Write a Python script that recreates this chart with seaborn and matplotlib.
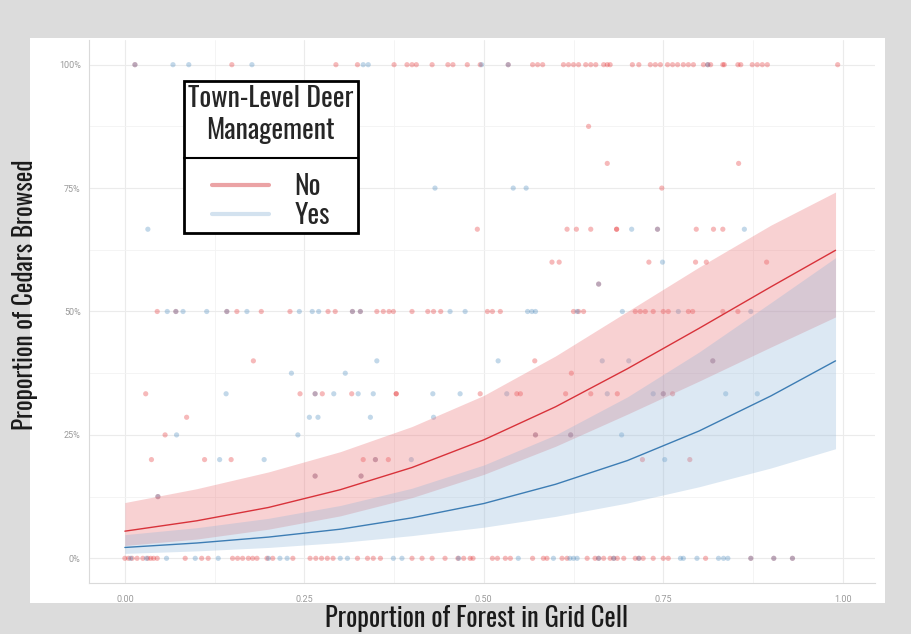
"""Cedar browsing vs. forest cover, by town-level deer management."""

import matplotlib

matplotlib.use("Agg")

import matplotlib.pyplot as plt
import pandas as pd
import seaborn as sns
from matplotlib.lines import Line2D
from matplotlib.patches import Rectangle

# observed cells: proportion of forest, one list per browsing level
NO_0 = [0.0, 0.005, 0.01, 0.017, 0.025, 0.032, 0.036, 0.04, 0.045, 0.084, 0.107, 0.116,
        0.15, 0.157, 0.164, 0.172, 0.178, 0.184, 0.198, 0.206, 0.234, 0.258, 0.266, 0.274,
        0.282, 0.29, 0.324, 0.338, 0.346, 0.356, 0.40, 0.414, 0.428, 0.446, 0.464, 0.472,
        0.481, 0.485, 0.512, 0.519, 0.53, 0.537, 0.568, 0.583, 0.588, 0.609, 0.616, 0.644,
        0.655, 0.66, 0.667, 0.676, 0.681, 0.686, 0.695, 0.711, 0.716, 0.722, 0.736, 0.75,
        0.757, 0.809, 0.872, 0.904, 0.93]
YES_0 = [0.008, 0.03, 0.058, 0.098, 0.13, 0.2, 0.216, 0.226, 0.30, 0.31, 0.374, 0.386,
         0.465, 0.548, 0.597, 0.62, 0.625, 0.63, 0.66, 0.681, 0.716, 0.774, 0.778, 0.797,
         0.827, 0.834, 0.84, 0.872, 0.904, 0.93]
NO_12 = [0.046]
YES_12 = [0.046]
NO_17 = [0.265, 0.329]
YES_17 = [0.265, 0.329]
NO_20 = [0.037, 0.111, 0.148, 0.332, 0.349, 0.367, 0.721, 0.787]
YES_20 = [0.132, 0.194, 0.349, 0.399, 0.752]
NO_25 = [0.056, 0.572, 0.621]
YES_25 = [0.072, 0.241, 0.572, 0.621, 0.692]
NO_29 = [0.086]
YES_29 = [0.257, 0.269, 0.342, 0.43]
NO_33 = [0.029, 0.244, 0.265, 0.275, 0.316, 0.378, 0.378, 0.495, 0.546, 0.551, 0.614,
         0.649, 0.686, 0.75, 0.763]
YES_33 = [0.141, 0.265, 0.291, 0.325, 0.346, 0.429, 0.467, 0.532, 0.672, 0.736, 0.75,
          0.837, 0.881]
NO_38 = [0.622]
YES_38 = [0.232, 0.307]
NO_40 = [0.179, 0.571, 0.819]
YES_40 = [0.351, 0.52, 0.665, 0.702, 0.819]
NO_50 = [0.045, 0.071, 0.142, 0.156, 0.19, 0.23, 0.283, 0.293, 0.317, 0.328, 0.351, 0.36,
         0.368, 0.374, 0.40, 0.422, 0.43, 0.44, 0.505, 0.512, 0.523, 0.625, 0.632, 0.639,
         0.711, 0.718, 0.725, 0.736, 0.75, 0.757, 0.785, 0.791, 0.833, 0.854]
YES_50 = [0.059, 0.071, 0.081, 0.114, 0.142, 0.17, 0.243, 0.261, 0.27, 0.317, 0.328,
          0.453, 0.474, 0.561, 0.567, 0.572, 0.63, 0.693, 0.771, 0.872]
NO_56 = [0.66]
YES_56 = [0.66]
NO_60 = [0.595, 0.605, 0.73, 0.795, 0.81, 0.894]
YES_60 = [0.749]
NO_67 = [0.491, 0.616, 0.629, 0.649, 0.685, 0.685, 0.742, 0.796, 0.82, 0.833]
YES_67 = [0.032, 0.706, 0.742, 0.863]
NO_75 = [0.748]
YES_75 = [0.432, 0.541, 0.559]
NO_80 = [0.672, 0.855]
NO_88 = [0.646]
NO_100 = [0.014, 0.149, 0.294, 0.324, 0.375, 0.393, 0.40, 0.406, 0.428, 0.45, 0.457, 0.477,
          0.495, 0.534, 0.568, 0.575, 0.582, 0.611, 0.618, 0.625, 0.632, 0.642, 0.649,
          0.656, 0.667, 0.672, 0.676, 0.707, 0.716, 0.732, 0.739, 0.746, 0.756, 0.763,
          0.770, 0.778, 0.785, 0.792, 0.806, 0.812, 0.816, 0.833, 0.835, 0.854, 0.858,
          0.874, 0.881, 0.888, 0.895, 0.993]
YES_100 = [0.014, 0.067, 0.089, 0.177, 0.332, 0.339, 0.497, 0.534, 0.812]

NO_LEVELS = [(0.0, NO_0), (0.125, NO_12), (1 / 6, NO_17), (0.2, NO_20), (0.25, NO_25),
             (2 / 7, NO_29), (1 / 3, NO_33), (0.375, NO_38), (0.4, NO_40), (0.5, NO_50),
             (5 / 9, NO_56), (0.6, NO_60), (2 / 3, NO_67), (0.75, NO_75), (0.8, NO_80),
             (0.875, NO_88), (1.0, NO_100)]
YES_LEVELS = [(0.0, YES_0), (0.125, YES_12), (1 / 6, YES_17), (0.2, YES_20), (0.25, YES_25),
              (2 / 7, YES_29), (1 / 3, YES_33), (0.375, YES_38), (0.4, YES_40),
              (0.5, YES_50), (5 / 9, YES_56), (0.6, YES_60), (2 / 3, YES_67),
              (0.75, YES_75), (1.0, YES_100)]

# fitted curves with 95% bands
FIT_X = [0.0, 0.1, 0.2, 0.3, 0.4, 0.5, 0.6, 0.7, 0.8, 0.9, 0.99]
NO_FIT = [0.055, 0.076, 0.103, 0.139, 0.184, 0.240, 0.307, 0.384, 0.466, 0.550, 0.624]
NO_LO = [0.026, 0.039, 0.059, 0.086, 0.123, 0.170, 0.227, 0.292, 0.359, 0.428, 0.489]
NO_HI = [0.113, 0.141, 0.175, 0.216, 0.267, 0.330, 0.410, 0.500, 0.590, 0.675, 0.742]
YES_FIT = [0.022, 0.031, 0.043, 0.059, 0.082, 0.111, 0.150, 0.198, 0.258, 0.329, 0.400]
YES_LO = [0.010, 0.015, 0.022, 0.032, 0.046, 0.063, 0.085, 0.112, 0.145, 0.183, 0.222]
YES_HI = [0.048, 0.062, 0.081, 0.107, 0.142, 0.189, 0.250, 0.327, 0.418, 0.518, 0.609]

X_TICKS = [0.0, 0.25, 0.5, 0.75, 1.0]
X_TICK_LABELS = ["0.00", "0.25", "0.50", "0.75", "1.00"]
Y_TICKS = [0.0, 0.25, 0.5, 0.75, 1.0]
Y_TICK_LABELS = ["0%", "25%", "50%", "75%", "100%"]

POINT_COLORS = {"No": "#E41A1C", "Yes": "#377EB8"}
LINE_COLORS = {"No": "#d8323a", "Yes": "#3d7db4"}
LABEL_FONT = ["Oswald", "DejaVu Sans"]


def build_points() -> pd.DataFrame:
    rows = []
    for group, levels in (("No", NO_LEVELS), ("Yes", YES_LEVELS)):
        for level, xs in levels:
            rows += [{"forest": x, "browsed": level, "mgmt": group} for x in xs]
    return pd.DataFrame(rows)


def main() -> None:
    sns.set_style("white")
    plt.rcParams["font.family"] = ["Roboto", "DejaVu Sans"]

    fig = plt.figure(figsize=(9.11, 6.34), dpi=100, facecolor="#dcdcdc")
    fig.patches.append(Rectangle((30 / 911, 1 - 603 / 634), 855 / 911, 565 / 634,
                                 transform=fig.transFigure, facecolor="white",
                                 edgecolor="none", zorder=-5))
    ax = fig.add_axes([89 / 911, 1 - 583 / 634, 786 / 911, 543 / 634])
    ax.set_facecolor("white")

    pts = build_points()
    sns.scatterplot(data=pts, x="forest", y="browsed", hue="mgmt", palette=POINT_COLORS,
                    s=14, alpha=0.3, linewidth=0, legend=False, ax=ax, zorder=2)

    ax.fill_between(FIT_X, NO_LO, NO_HI, color="#ec7074", alpha=0.32, lw=0, zorder=3)
    ax.fill_between(FIT_X, YES_LO, YES_HI, color="#8cb4d8", alpha=0.3, lw=0, zorder=3)

    fit = pd.DataFrame({
        "forest": FIT_X * 2,
        "fit": NO_FIT + YES_FIT,
        "mgmt": ["No"] * len(FIT_X) + ["Yes"] * len(FIT_X),
    })
    sns.lineplot(data=fit, x="forest", y="fit", hue="mgmt", palette=LINE_COLORS,
                 linewidth=1.0, legend=False, ax=ax, zorder=4)

    ax.set_xlim(-0.05, 1.045)
    ax.set_ylim(-0.05, 1.05)
    ax.set_xticks(X_TICKS, X_TICK_LABELS)
    ax.set_yticks(Y_TICKS, Y_TICK_LABELS)
    ax.set_xticks([0.125, 0.375, 0.625, 0.875], minor=True)
    ax.set_yticks([0.125, 0.375, 0.625, 0.875], minor=True)
    ax.tick_params(which="both", length=0, labelsize=6.5, labelcolor="#9a9a9a")
    ax.tick_params(axis="x", pad=9)
    ax.tick_params(axis="y", pad=6)
    ax.grid(which="major", color="#ebebeb", linewidth=0.8)
    ax.grid(which="minor", color="#f3f3f3", linewidth=0.6)
    ax.set_axisbelow(True)
    for side in ("top", "right"):
        ax.spines[side].set_visible(False)
    for side in ("left", "bottom"):
        ax.spines[side].set_color("#dadada")
        ax.spines[side].set_linewidth(0.8)
    ax.set_xlabel("")
    ax.set_ylabel("")

    fig.text(477 / 911, 1 - 619 / 634, "Proportion of Forest in Grid Cell",
             ha="center", va="center", fontsize=19, family=LABEL_FONT, color="#1a1a1a")
    fig.text(25 / 911, 1 - 295 / 634, "Proportion of Cedars Browsed", rotation=90,
             ha="center", va="center", fontsize=18, family=LABEL_FONT, color="#1a1a1a")

    handles = [Line2D([], [], color="#eba3a5", lw=3), Line2D([], [], color="#d3e2ef", lw=3)]
    leg = fig.legend(handles, ["No", "Yes"], title="Town-Level Deer\nManagement",
                     loc="upper left", bbox_to_anchor=(184 / 911, 1 - 81 / 634),
                     frameon=True, fancybox=False, framealpha=1, edgecolor="black",
                     prop={"family": LABEL_FONT, "size": 20},
                     title_fontproperties={"family": LABEL_FONT, "size": 20},
                     alignment="center", handlelength=2.05, handletextpad=0.9,
                     labelspacing=0.08, borderpad=0.15, borderaxespad=0)
    leg.get_frame().set_linewidth(2)
    leg.get_title().set_multialignment("center")
    leg.set_zorder(20)
    # extra room between the title block and the entries, as in the original
    leg._legend_box.sep = 21

    fig.canvas.draw()
    renderer = fig.canvas.get_renderer()
    tb = leg.get_title().get_window_extent(renderer)
    t0 = leg.get_texts()[0].get_window_extent(renderer)
    fb = leg.get_frame().get_window_extent(renderer)
    inv = fig.transFigure.inverted()
    ysep = (tb.y0 + t0.y1) / 2
    (x0, y0), (x1, _) = inv.transform([(fb.x0, ysep), (fb.x1, ysep)])
    fig.add_artist(Line2D([x0, x1], [y0, y0], transform=fig.transFigure,
                          color="black", lw=1.5, zorder=30))

    fig.savefig("out.png", dpi=100, facecolor=fig.get_facecolor())
    plt.close(fig)


if __name__ == "__main__":
    main()
